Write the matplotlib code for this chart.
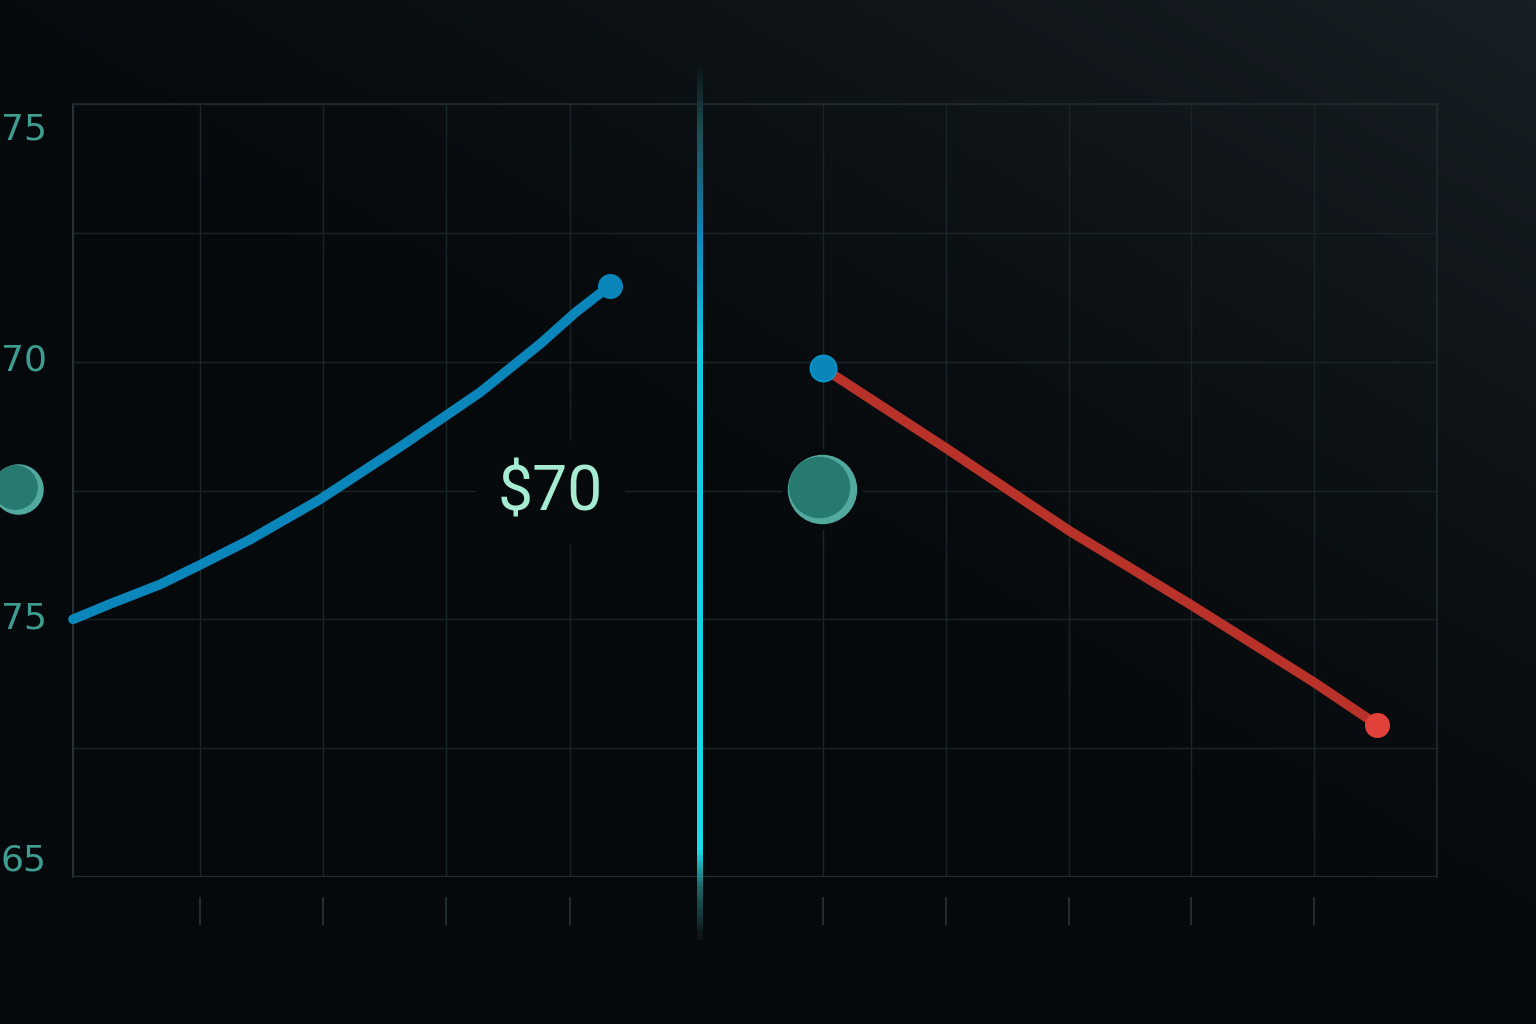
import matplotlib
matplotlib.use("Agg")
import matplotlib.pyplot as plt
import numpy as np
from matplotlib.collections import LineCollection
from matplotlib.colors import LinearSegmentedColormap

# grid units: x columns 0..11, y rows 0..6
grid_x = [0, 1.024, 2.016, 3.008, 4.008, 5.056, 6.048, 7.04, 8.032, 9.016, 10.008, 11]
grid_y = np.arange(0, 7)

rise_x = [0.0, 0.30, 0.70, 1.02, 1.43, 1.99, 2.64, 3.28, 3.77, 4.05, 4.33]
rise_y = [2.00, 2.12, 2.27, 2.42, 2.62, 2.93, 3.34, 3.76, 4.14, 4.38, 4.59]

fall_x = [6.05, 7.07, 8.03, 9.02, 10.01, 10.52]
fall_y = [3.95, 3.31, 2.69, 2.11, 1.51, 1.18]

ytick_pos = [5.83, 4.04, 2.03, 0.155]
ytick_labels = ["75", "70", "75", "65"]
xtick_pos = [1.024, 2.016, 3.008, 4.008, 6.048, 7.04, 8.032, 9.016, 10.008]

divider_x = 5.056
price_label = "$70"
price_pos = (3.85, 2.98)
spheres = [(6.04, 3.01, 2400), (-0.44, 3.01, 1250)]

fig = plt.figure(figsize=(15.36, 10.24), dpi=100)

# background gradient
bg = fig.add_axes([0, 0, 1, 1], zorder=-10)
gx, gy = np.meshgrid(np.linspace(0, 1, 300), np.linspace(0, 1, 200))
t = np.clip((gx * 0.8 + gy * 0.9 - 0.75) / 0.95, 0, 1) ** 1.4
c0 = np.array([6, 9, 12]) / 255
c1 = np.array([24, 32, 37]) / 255
img = c0 + (c1 - c0) * t[..., None]
bg.imshow(img, origin="lower", extent=[0, 1, 0, 1], aspect="auto")
bg.axis("off")

ax = fig.add_axes([73 / 1536, 147 / 1024, 1364 / 1536, 773 / 1024])
ax.set_facecolor("none")
ax.set_xlim(0, 11)
ax.set_ylim(0, 6)

for gxv in grid_x:
    ax.axvline(gxv, color="#1a2529", lw=1.0, zorder=1)
for gyv in grid_y:
    ax.axhline(gyv, color="#1a2529", lw=1.0, zorder=1)
ax.axhline(0, color="#222d31", lw=1.6, zorder=1)

for s in ["top", "right"]:
    ax.spines[s].set_color("#1f2b30")
    ax.spines[s].set_linewidth(1.2)
ax.spines["left"].set_color("#22333a")
ax.spines["left"].set_linewidth(1.4)
ax.spines["bottom"].set_position(("outward", 14.4))
ax.spines["bottom"].set_visible(False)

ax.set_xticks(xtick_pos)
ax.set_xticklabels([])
ax.tick_params(axis="x", direction="out", length=20, width=1.5, color="#222d32")
ax.set_yticks(ytick_pos)
ax.set_yticklabels(ytick_labels, fontsize=26, color="#3e9d90", family="DejaVu Sans")
ax.tick_params(axis="y", length=0, pad=19)

# divider line with vertical gradient
vy = np.linspace(6.34, -0.49, 400)
cmap = LinearSegmentedColormap.from_list(
    "div",
    [(0.0, "#0b1114"), (0.08, "#1d4f52"), (0.20, "#0b86bd"),
     (0.33, "#14c6e0"), (0.90, "#1bdaea"), (0.94, "#1f6a6a"), (1.0, "#0b1114")])
pts = np.column_stack([np.full_like(vy, divider_x), vy]).reshape(-1, 1, 2)
segs = np.concatenate([pts[:-1], pts[1:]], axis=1)
lc = LineCollection(segs, colors=cmap(np.linspace(0, 1, len(segs))), linewidths=4.2,
                    capstyle="butt", antialiaseds=False, zorder=3, clip_on=False)
ax.add_collection(lc)

# price label
ax.text(*price_pos, price_label, fontsize=45, color="#a6ecd2", family="Roboto",
        ha="center", va="center", zorder=4,
        bbox=dict(boxstyle="square,pad=0.35", fc="#060a0d", ec="none"))

# lines
ax.plot(rise_x, rise_y, color="#0a86bb", lw=7, solid_capstyle="round",
        solid_joinstyle="round", zorder=5, clip_on=False)
ax.plot(rise_x[-1], rise_y[-1], "o", ms=17, color="#0a86bb", zorder=6)

ax.plot(fall_x, fall_y, color="#b8322a", lw=7, solid_capstyle="round", zorder=5)
ax.plot(fall_x[0], fall_y[0], "o", ms=19, color="#0a86bb", mec="#0b9ad0", mew=1, zorder=6)
ax.plot(fall_x[-1], fall_y[-1], "o", ms=17, color="#e0413a", zorder=6)

# teal spheres
for sx, sy, ss in spheres:
    ax.scatter([sx], [sy], s=ss * 1.35, color="#070a0d", zorder=4, clip_on=False)
    ax.scatter([sx], [sy], s=ss, color="#52aa9f", zorder=5, clip_on=False)
    ax.scatter([sx - 0.025], [sy + 0.02], s=ss * 0.78, color="#267a70", zorder=5,
               clip_on=False)

fig.savefig("out.png", dpi=100)
